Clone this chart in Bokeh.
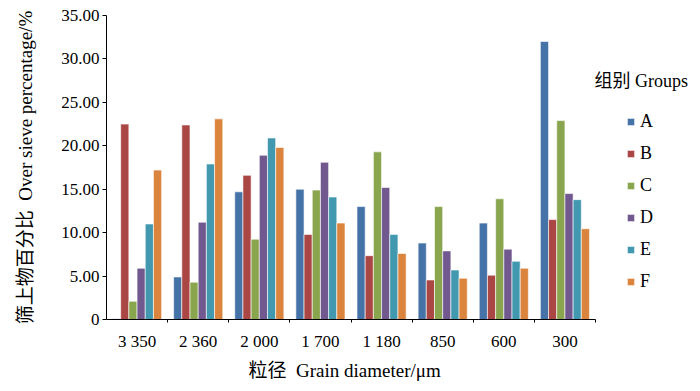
from bokeh.plotting import figure
from bokeh.models import FixedTicker, Legend, LegendItem, Label, PrintfTickFormatter, Range1d, Title
from bokeh.embed import file_html
from bokeh.resources import INLINE

# ---- data ----
categories = ["3 350", "2 360", "2 000", "1 700", "1 180", "850", "600", "300"]
groups = ["A", "B", "C", "D", "E", "F"]
A = [0.1, 4.9, 14.7, 15.0, 13.0, 8.8, 11.1, 32.0]
B = [22.5, 22.4, 16.6, 9.8, 7.35, 4.55, 5.1, 11.5]
C = [2.1, 4.3, 9.25, 14.9, 19.3, 13.0, 13.9, 22.9]
D = [5.9, 11.2, 18.9, 18.1, 15.2, 7.9, 8.1, 14.5]
E = [11.0, 17.9, 20.9, 14.1, 9.8, 5.7, 6.7, 13.8]
F = [17.2, 23.1, 19.8, 11.1, 7.6, 4.75, 5.9, 10.45]
series = [A, B, C, D, E, F]
colors = ["#4572A7", "#AA4643", "#89A54E", "#71588F", "#4198AF", "#DB843D"]
y_ticks = [0, 5, 10, 15, 20, 25, 30, 35]

FONT = "Liberation Serif, Noto Sans CJK SC"
NB2 = "\u00a0\u00a0"

W, H = 700, 391
left, top, axis_right, bottom = 106, 15, 595, 319
n = len(categories)
x_end = n * (W - left) / (axis_right - left)   # frame extends to the right edge; axis bounded to [0, n]

p = figure(width=W, height=H, output_backend="svg", toolbar_location=None,
           x_range=Range1d(0, x_end), y_range=Range1d(0, 35),
           min_border_left=left, min_border_right=0, min_border_top=top,
           min_border_bottom=H - bottom)
p.outline_line_color = None
p.xgrid.visible = False
p.ygrid.visible = False

bw = 0.134
centers = [i + 0.5 for i in range(n)]
renderers = []
for k, (vals, col) in enumerate(zip(series, colors)):
    off = (k - 2.5) * bw
    r = p.vbar(x=[c + off for c in centers], top=vals, bottom=0, width=bw,
               fill_color=col, line_color="white", line_alpha=0.6, line_width=1)
    renderers.append(r)

# y axis
ya = p.yaxis[0]
ya.ticker = FixedTicker(ticks=y_ticks, minor_ticks=[])
ya.formatter = PrintfTickFormatter(format="%.2f")
ya.major_label_overrides = {0: "0"}
ya.major_tick_out = 4
ya.major_tick_in = 0
ya.minor_tick_line_color = None
ya.major_label_standoff = 3
ya.major_label_text_font = FONT
ya.major_label_text_font_size = "17px"
ya.major_label_text_color = "black"
ya.axis_line_color = "black"
ya.axis_label = "筛上物百分比" + NB2 + "Over sieve percentage/%"
ya.axis_label_text_font = FONT
ya.axis_label_text_font_size = "19px"
ya.axis_label_text_font_style = "normal"
ya.axis_label_text_color = "black"
ya.axis_label_standoff = 22

# x axis
xa = p.xaxis[0]
xa.bounds = (0, n)
xa.ticker = FixedTicker(ticks=centers, minor_ticks=[i + 1 for i in range(n)])
xa.major_label_overrides = {c: lab for c, lab in zip(centers, categories)}
xa.major_tick_line_color = None
xa.minor_tick_line_color = "black"
xa.minor_tick_out = 3
xa.minor_tick_in = 0
xa.major_label_standoff = 6
xa.major_label_text_font = FONT
xa.major_label_text_font_size = "17px"
xa.major_label_text_color = "black"
xa.axis_line_color = "black"

p.add_layout(Title(text="粒径" + NB2 + "Grain diameter/μm", align="left", offset=142,
                   text_font=FONT, text_font_size="19px", text_font_style="normal",
                   text_color="black", standoff=8), "below")

legend = Legend(items=[LegendItem(label=g, renderers=[r]) for g, r in zip(groups, renderers)],
                location=(520, 27), glyph_width=9, glyph_height=9, label_height=21,
                spacing=11, padding=0, margin=0, border_line_color=None,
                background_fill_alpha=0, label_standoff=5,
                label_text_font=FONT, label_text_font_size="18px", label_text_color="black")
p.add_layout(legend)

p.add_layout(Label(x=488, y=239, x_units="screen", y_units="screen", text="组别 Groups",
                   text_font=FONT, text_font_size="18px", text_baseline="middle",
                   text_align="left", text_color="black"))

open("out.html", "w").write(file_html(p, INLINE))
